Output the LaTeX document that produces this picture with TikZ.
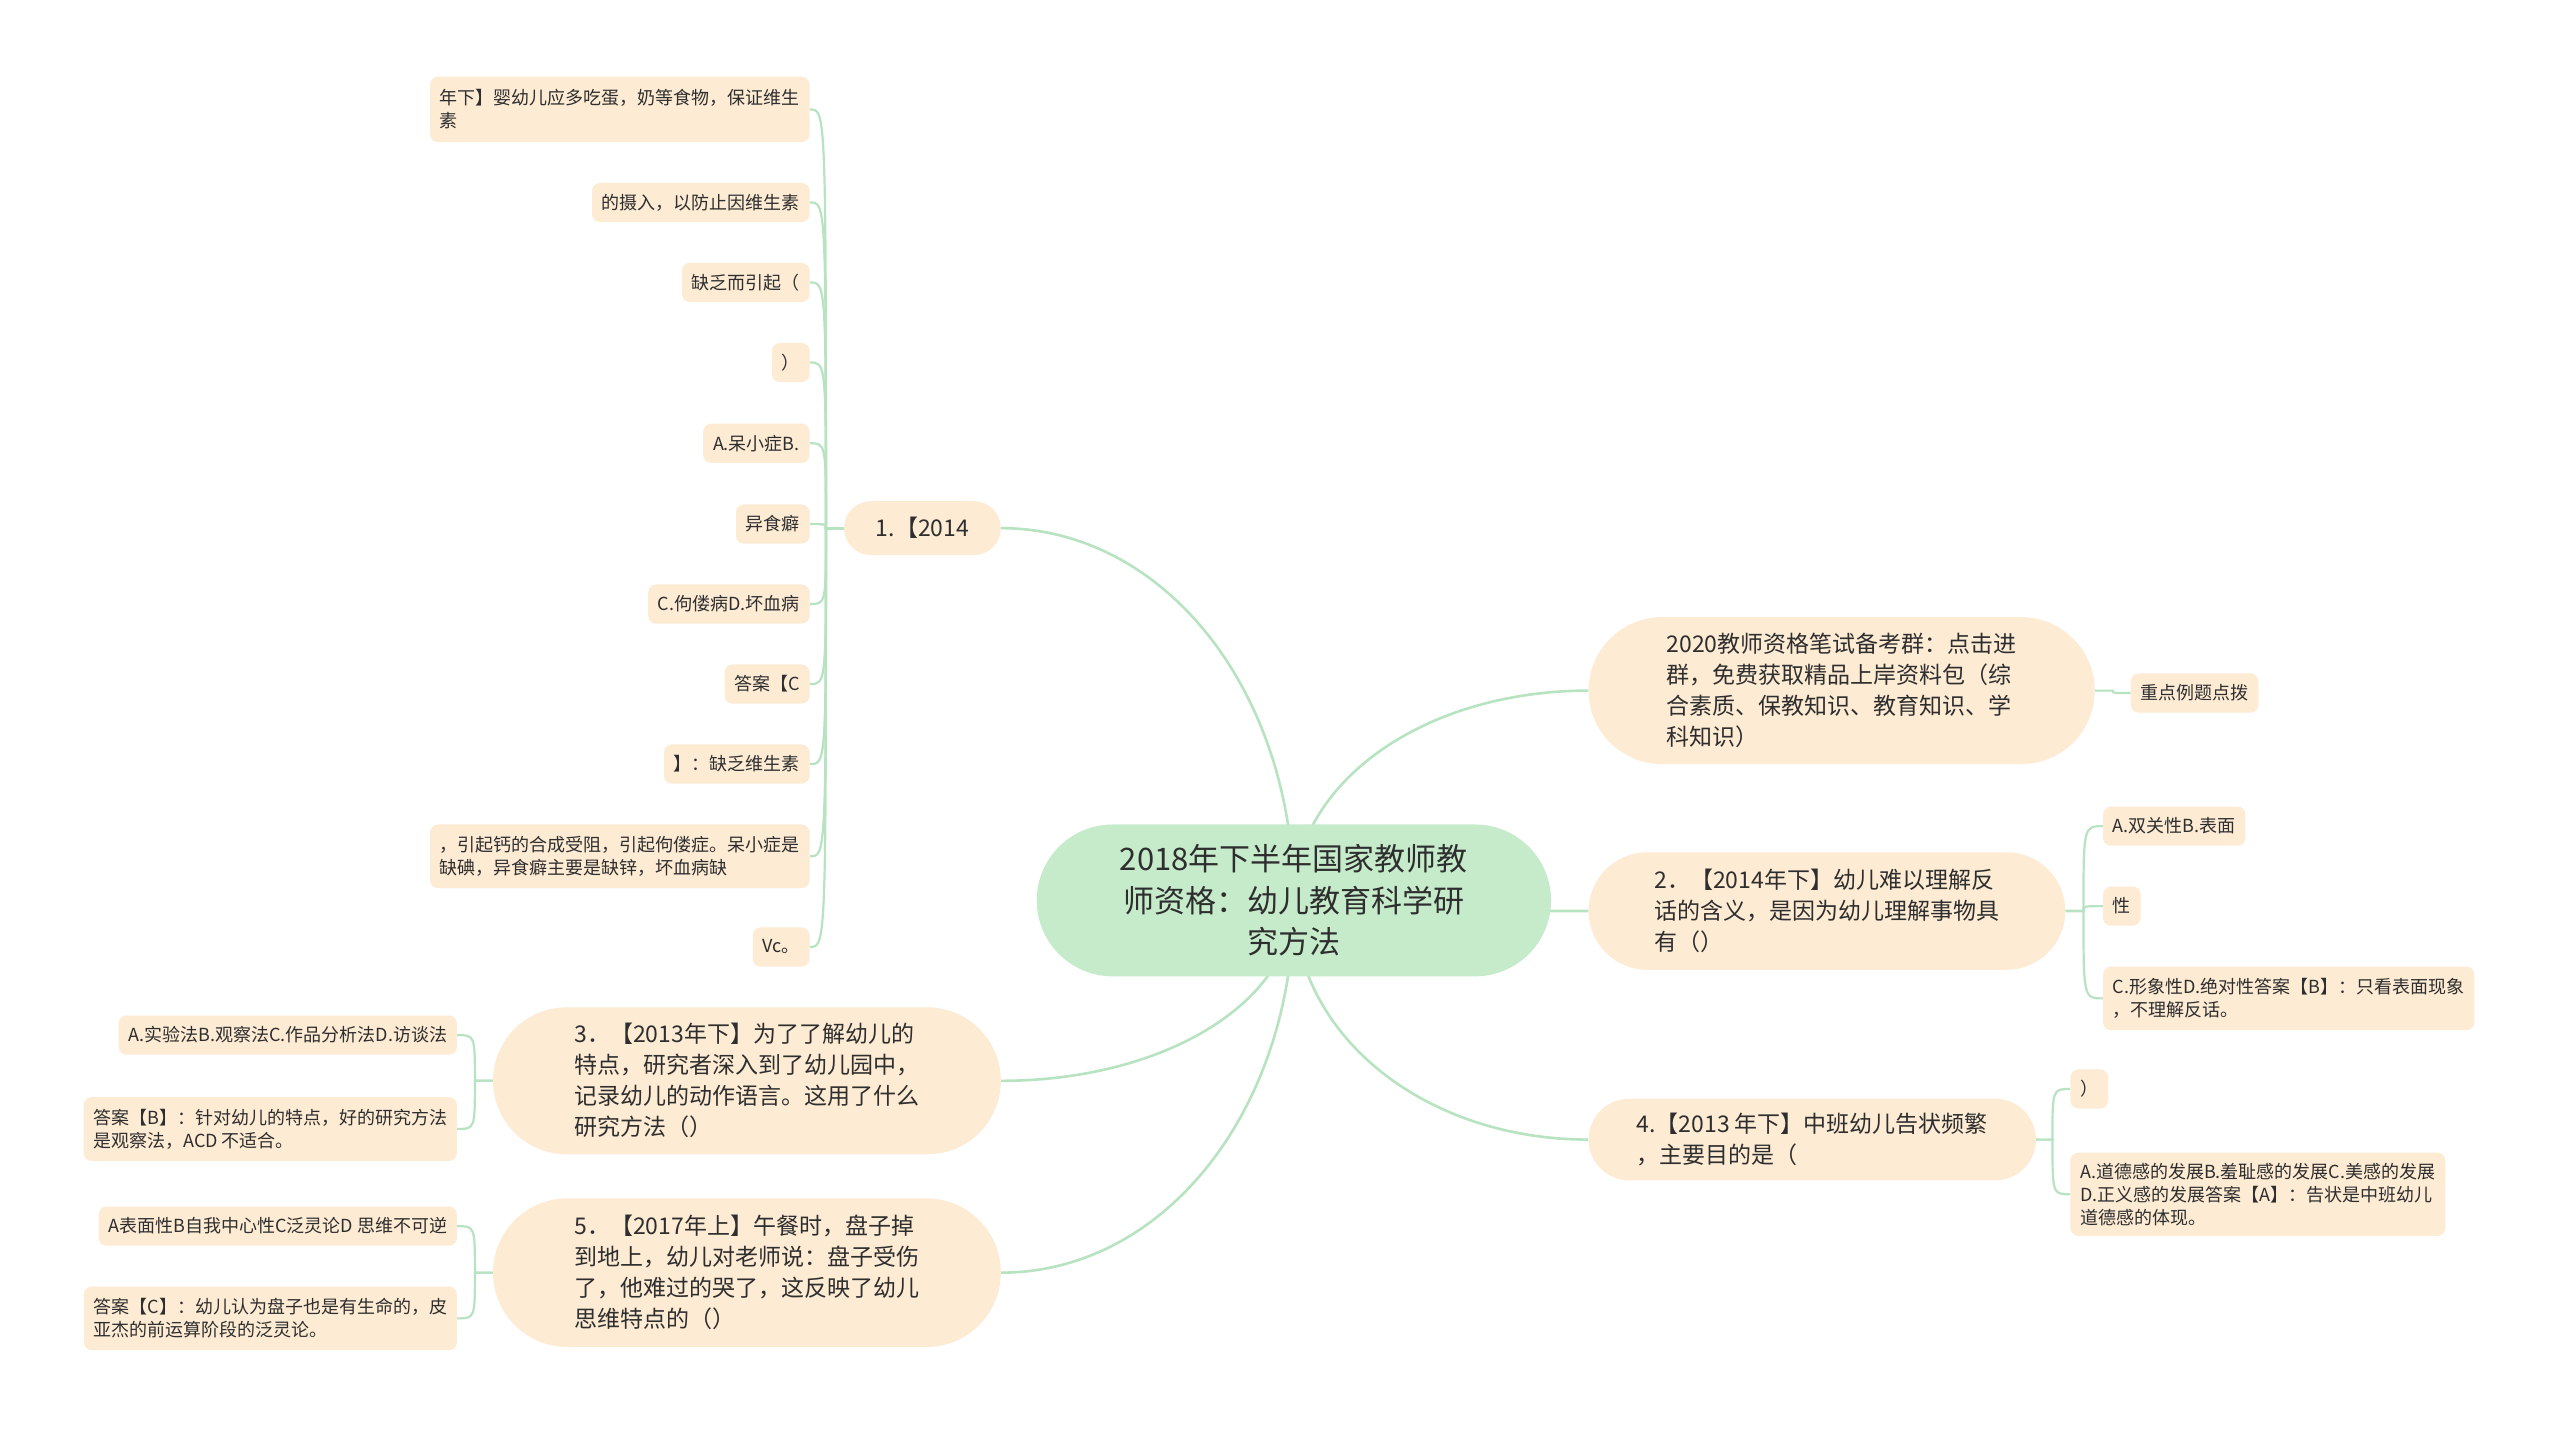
\documentclass[tikz,border=0pt]{standalone}
\usepackage{fontspec}
\setmainfont{Noto Sans CJK SC}
\usetikzlibrary{calc,backgrounds}
\definecolor{rootfill}{HTML}{C6EBCB}
\definecolor{peach}{HTML}{FDEBD4}
\definecolor{linkc}{HTML}{B8E3C1}
\definecolor{txt}{HTML}{2E2E2E}
\newcommand\pxu{1.6327pt}
\newcommand\mainlink[2]{%
  \coordinate (kk) at (#1 |- #2);
  \draw[link] (#1) .. controls ($(#1)!0.56!(kk)$) and ($(#2)!0.56!(kk)$) .. (#2);}
\begin{document}
\begin{tikzpicture}[x=1.6327pt,y=-1.6327pt,
  root/.style={fill=rootfill, text=txt, rounded corners=75.9pt, minimum width=315*\pxu, minimum height=93*\pxu, inner sep=0pt, align=center, font=\fontsize{31}{41.5}\selectfont},
  topic/.style={fill=peach, text=txt, inner sep=0pt, align=left, font=\fontsize{23}{31}\selectfont},
  leaf/.style={fill=peach, text=txt, rounded corners=8pt, inner xsep=6*\pxu, inner ysep=0pt, minimum height=24*\pxu, align=left, font=\fontsize{18}{23}\selectfont},
  link/.style={draw=linkc, line width=2.6pt},
  sublink/.style={draw=linkc, line width=2.2pt},
]
\useasboundingbox (0,0) rectangle (1568,875);

% central
\node[root] (root) at (792.5,551.5) {2018年下半年国家教师教\\师资格：幼儿教育科学研\\究方法};

% level 1
\node[topic, minimum width=96*\pxu, minimum height=33*\pxu, rounded corners=26.9pt] (n1) at (565,323.5) {1.【2014};
\node[topic, minimum width=311*\pxu, minimum height=90*\pxu, rounded corners=73.4pt] (n3) at (457.5,662) {3．【2013年下】为了了解幼儿的\\特点，研究者深入到了幼儿园中，\\记录幼儿的动作语言。这用了什么\\研究方法（）};
\node[topic, minimum width=311*\pxu, minimum height=91*\pxu, rounded corners=74.2pt] (n5) at (457.5,779.5) {5．【2017年上】午餐时，盘子掉\\到地上，幼儿对老师说：盘子受伤\\了，他难过的哭了，这反映了幼儿\\思维特点的（）};
\node[topic, minimum width=310*\pxu, minimum height=90*\pxu, rounded corners=73.4pt] (n0) at (1128,423) {2020教师资格笔试备考群：点击进\\群，免费获取精品上岸资料包（综\\合素质、保教知识、教育知识、学\\科知识）};
\node[topic, minimum width=292*\pxu, minimum height=72*\pxu, rounded corners=58.7pt] (n2) at (1119,558) {2．【2014年下】幼儿难以理解反\\话的含义，是因为幼儿理解事物具\\有（）};
\node[topic, minimum width=274*\pxu, minimum height=50*\pxu, rounded corners=40.8pt] (n4) at (1110,698) {4.【2013 年下】中班幼儿告状频繁\\，主要目的是（};

% children of n1
\node[leaf, anchor=east, minimum height=40*\pxu] (c1) at (496,67) {年下】婴幼儿应多吃蛋，奶等食物，保证维生\\素};
\node[leaf, anchor=east] (c2) at (496,124) {的摄入，以防止因维生素};
\node[leaf, anchor=east] (c3) at (496,173) {缺乏而引起（};
\node[leaf, anchor=east] (c4) at (496,222) {）};
\node[leaf, anchor=east] (c5) at (496,271.5) {A.呆小症B.};
\node[leaf, anchor=east] (c6) at (496,321) {异食癖};
\node[leaf, anchor=east] (c7) at (496,370) {C.佝偻病D.坏血病};
\node[leaf, anchor=east] (c8) at (496,419) {答案【C};
\node[leaf, anchor=east] (c9) at (496,468) {】：缺乏维生素};
\node[leaf, anchor=east, minimum height=39*\pxu] (c10) at (496,524.5) {，引起钙的合成受阻，引起佝偻症。呆小症是\\缺碘，异食癖主要是缺锌，坏血病缺};
\node[leaf, anchor=east] (c11) at (496,580) {Vc。};

% children of n3
\node[leaf, anchor=east] (d1) at (280,634) {A.实验法B.观察法C.作品分析法D.访谈法};
\node[leaf, anchor=east, minimum height=39*\pxu] (d2) at (280,691.5) {答案【B】：针对幼儿的特点，好的研究方法\\是观察法，ACD 不适合。};

% children of n5
\node[leaf, anchor=east] (e1) at (280,751) {A表面性B自我中心性C泛灵论D 思维不可逆};
\node[leaf, anchor=east, minimum height=39*\pxu] (e2) at (280,807.5) {答案【C】：幼儿认为盘子也是有生命的，皮\\亚杰的前运算阶段的泛灵论。};

% child of n0
\node[leaf, anchor=west] (f1) at (1305,424.5) {重点例题点拨};

% children of n2
\node[leaf, anchor=west] (g1) at (1288,506) {A.双关性B.表面};
\node[leaf, anchor=west] (g2) at (1288,555) {性};
\node[leaf, anchor=west, minimum height=39*\pxu] (g3) at (1288,611.5) {C.形象性D.绝对性答案【B】：只看表面现象\\，不理解反话。};

% children of n4
\node[leaf, anchor=west] (h1) at (1268,667) {）};
\node[leaf, anchor=west, minimum height=51*\pxu] (h2) at (1268,731.5) {A.道德感的发展B.羞耻感的发展C.美感的发展\\D.正义感的发展答案【A】：告状是中班幼儿\\道德感的体现。};

% trunk coordinates
\coordinate (t1) at ($(n1.west)+(-11,0)$);
\coordinate (t3) at ($(n3.west)+(-11,0)$);
\coordinate (t5) at ($(n5.west)+(-11,0)$);
\coordinate (t0) at ($(n0.east)+(11,0)$);
\coordinate (t2) at ($(n2.east)+(11,0)$);
\coordinate (t4) at ($(n4.east)+(10,0)$);

\begin{scope}[on background layer]
  \fill[white] (0,0) rectangle (1568,875);
  \mainlink{root.center}{n1.east}
  \mainlink{root.center}{n3.east}
  \mainlink{root.center}{n5.east}
  \mainlink{root.center}{n0.west}
  \mainlink{root.center}{n2.west}
  \mainlink{root.center}{n4.west}
  \foreach \ch in {c1,c2,c3,c4,c5,c6,c7,c8,c9,c10,c11}
    \draw[sublink] (n1.west) -- (t1) .. controls (t1 |- \ch.east) .. (\ch.east);
  \foreach \ch in {d1,d2}
    \draw[sublink] (n3.west) -- (t3) .. controls (t3 |- \ch.east) .. (\ch.east);
  \foreach \ch in {e1,e2}
    \draw[sublink] (n5.west) -- (t5) .. controls (t5 |- \ch.east) .. (\ch.east);
  \foreach \ch in {f1}
    \draw[sublink] (n0.east) -- (t0) .. controls (t0 |- \ch.west) .. (\ch.west);
  \foreach \ch in {g1,g2,g3}
    \draw[sublink] (n2.east) -- (t2) .. controls (t2 |- \ch.west) .. (\ch.west);
  \foreach \ch in {h1,h2}
    \draw[sublink] (n4.east) -- (t4) .. controls (t4 |- \ch.west) .. (\ch.west);
\end{scope}
\end{tikzpicture}
\end{document}
